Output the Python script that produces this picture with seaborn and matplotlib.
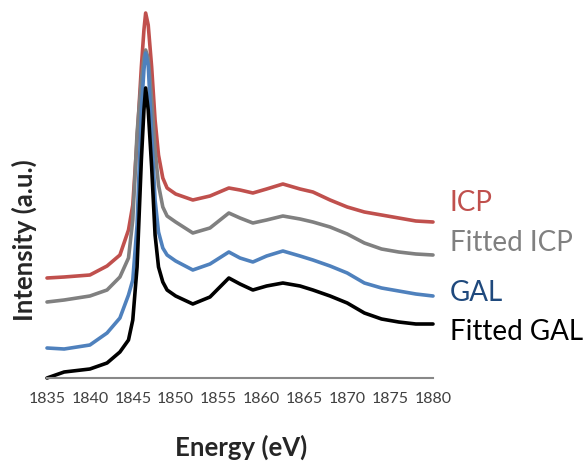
import numpy as np
import pandas as pd
import matplotlib
matplotlib.use('Agg')
import matplotlib.pyplot as plt
import seaborn as sns

# energy grid (eV) and the four spectra (arbitrary units)
energy = [1835, 1837, 1840, 1842, 1843.5, 1844.5, 1845, 1845.5, 1846, 1846.3, 1846.5, 1846.8,
          1847.2, 1847.6, 1848, 1848.5, 1849, 1850, 1852, 1854, 1856.2, 1857.5, 1859, 1860.6,
          1862.5, 1864.5, 1866, 1868, 1870, 1872, 1874, 1876, 1878, 1880]

icp = [100, 101, 103, 112, 123, 148, 173, 238, 311, 348, 365, 353, 311, 258, 223, 200, 190, 184,
       178, 182, 190, 188, 185, 189, 194, 189, 186, 178, 171, 166, 163, 160, 157, 156]
fitted_icp = [76, 78, 82, 88, 101, 120, 158, 245, 298, 320, 328, 320, 278, 228, 193, 171, 162, 156,
              145, 150, 165, 160, 155, 158, 162, 159, 156, 151, 144, 135, 129, 126, 124, 123]
gal = [30, 29, 33, 45, 60, 83, 98, 153, 268, 308, 325, 313, 245, 178, 146, 130, 123, 117,
       108, 114, 126, 120, 116, 122, 127, 122, 118, 112, 105, 95, 90, 87, 84, 82]
fitted_gal = [0, 6, 9, 15, 26, 38, 58, 111, 218, 268, 290, 268, 211, 143, 111, 96, 88, 82,
              74, 81, 100, 94, 88, 92, 95, 92, 88, 82, 75, 65, 59, 56, 54, 54]

series_names = ['ICP', 'Fitted ICP', 'GAL', 'Fitted GAL']
line_colors = ['#C0504D', '#808080', '#4F81BD', '#000000']
label_colors = ['#C0504D', '#808080', '#1F497D', '#000000']
label_y_px = [203, 243, 293, 332]

frames = []
for name, vals in zip(series_names, [icp, fitted_icp, gal, fitted_gal]):
    frames.append(pd.DataFrame({'energy': energy, 'intensity': vals, 'sample': name}))
df = pd.concat(frames, ignore_index=True)

sns.set_style('white')
plt.rcParams['font.family'] = ['Lato', 'DejaVu Sans']

W, H = 587, 468
fig = plt.figure(figsize=(W / 100, H / 100), dpi=100)
ax = fig.add_axes([47 / W, (H - 378) / H, (433 - 47) / W, (378 - 8) / H])

sns.lineplot(data=df, x='energy', y='intensity', hue='sample', palette=line_colors,
             hue_order=series_names, linewidth=2.6, legend=False, ax=ax, clip_on=False)

ax.set_xlim(1835, 1880)
ax.set_ylim(0, 370)
ax.set_xticks(np.arange(1835, 1881, 5))
ax.set_yticks([])
ax.set_xlabel('')
ax.set_ylabel('')
for side in ['top', 'right', 'left']:
    ax.spines[side].set_visible(False)
ax.spines['bottom'].set_color('#888888')
ax.spines['bottom'].set_linewidth(1.5)
ax.tick_params(axis='x', direction='inout', length=8, width=1.2, color='#888888',
               labelsize=11.5, labelcolor='#404040', pad=6)

# series labels on the right
for name, col, ypx in zip(series_names, label_colors, label_y_px):
    fig.text(450 / W, (H - ypx) / H, name, color=col, fontsize=20, va='center', ha='left')

fig.text(241 / W, (H - 447) / H, 'Energy (eV)', fontsize=18.5, fontweight='bold',
         ha='center', va='center')
fig.text(24 / W, (H - 240) / H, 'Intensity (a.u.)', fontsize=18.5, fontweight='bold',
         ha='center', va='center', rotation=90)

fig.savefig('out.png', dpi=100)
